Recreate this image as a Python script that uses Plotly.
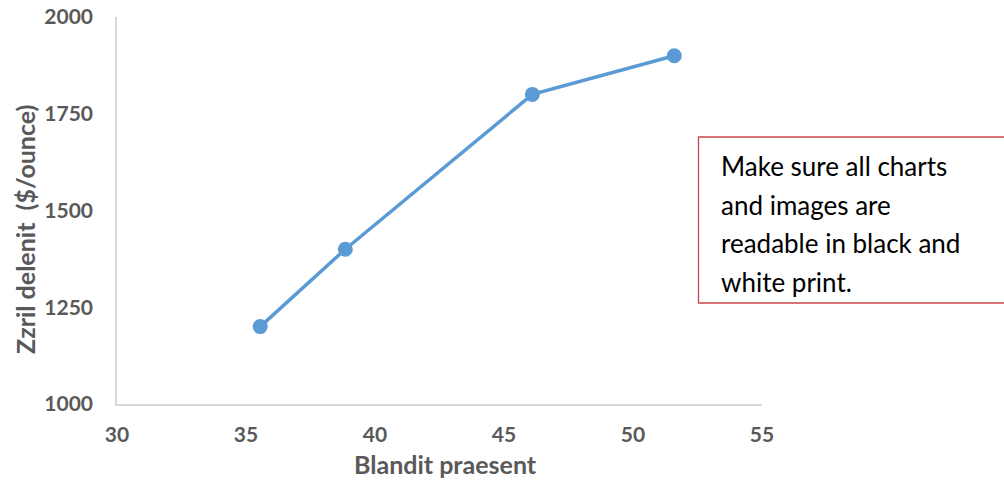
import plotly.graph_objects as go

x_values = [35.55, 38.85, 46.1, 51.6]
y_values = [1200, 1400, 1800, 1900]
x_ticks = [30, 35, 40, 45, 50, 55]
y_ticks = [1000, 1250, 1500, 1750, 2000]
x_title = "Blandit praesent"
y_title = "Zzril delenit  ($/ounce)"
note_lines = ["Make sure all charts", "and images are", "readable in black and", "white print."]

W, H = 1004, 480
L, R, T, B = 117, 242, 17, 76
pw, ph = W - L - R, H - T - B

def px(xp):
    return (xp - L) / pw

def py(yp):
    return (H - B - yp) / ph

fig = go.Figure()
fig.add_trace(go.Scatter(
    x=x_values, y=y_values, mode="lines+markers",
    line=dict(color="#5B9BD5", width=3.5),
    marker=dict(color="#5B9BD5", size=15),
    showlegend=False, hoverinfo="skip",
))

tick_font = dict(family="Lato, Open Sans, sans-serif", size=21, color="#595959", weight="bold")

fig.update_layout(
    width=W, height=H,
    margin=dict(l=L, r=R, t=T, b=B, pad=0),
    paper_bgcolor="white", plot_bgcolor="white",
    xaxis=dict(range=[30, 55], tickvals=x_ticks, showgrid=False, zeroline=False,
               showline=True, linecolor="#D9D9D9", linewidth=1.5, ticks="",
               tickfont=tick_font, ticklabelstandoff=11, automargin=False),
    yaxis=dict(range=[1000, 2000], tickvals=y_ticks, showgrid=False, zeroline=False,
               showline=True, linecolor="#D9D9D9", linewidth=1.5, ticks="",
               tickfont=tick_font, ticklabelstandoff=18, automargin=False),
)

fig.add_annotation(text="<b>" + x_title + "</b>", xref="paper", yref="paper",
                   x=px(446), y=py(464), xanchor="center", yanchor="middle", showarrow=False,
                   font=dict(family="Lato, Open Sans, sans-serif", size=25, color="#595959"))
fig.add_annotation(text="<b>" + y_title + "</b>", xref="paper", yref="paper",
                   x=px(25), y=py(230), xanchor="center", yanchor="middle",
                   showarrow=False, textangle=-90,
                   font=dict(family="Lato, Open Sans, sans-serif", size=25, color="#595959"))

fig.add_shape(type="rect", xref="paper", yref="paper",
              x0=px(698.5), x1=px(1010), y0=py(303), y1=py(137),
              line=dict(color="#C9474A", width=1.3), fillcolor="white", layer="above")

line_y = [166, 204.5, 243, 281.5]
for txt, yy in zip(note_lines, line_y):
    fig.add_annotation(text=txt, xref="paper", yref="paper", x=px(719), y=py(yy),
                       xanchor="left", yanchor="middle", showarrow=False,
                       font=dict(family="Lato, Open Sans, sans-serif", size=26, color="#000000"))

fig.write_html("out.html", config={"displayModeBar": False},
               post_script="document.body.style.margin='0';document.body.style.overflow='hidden';")
